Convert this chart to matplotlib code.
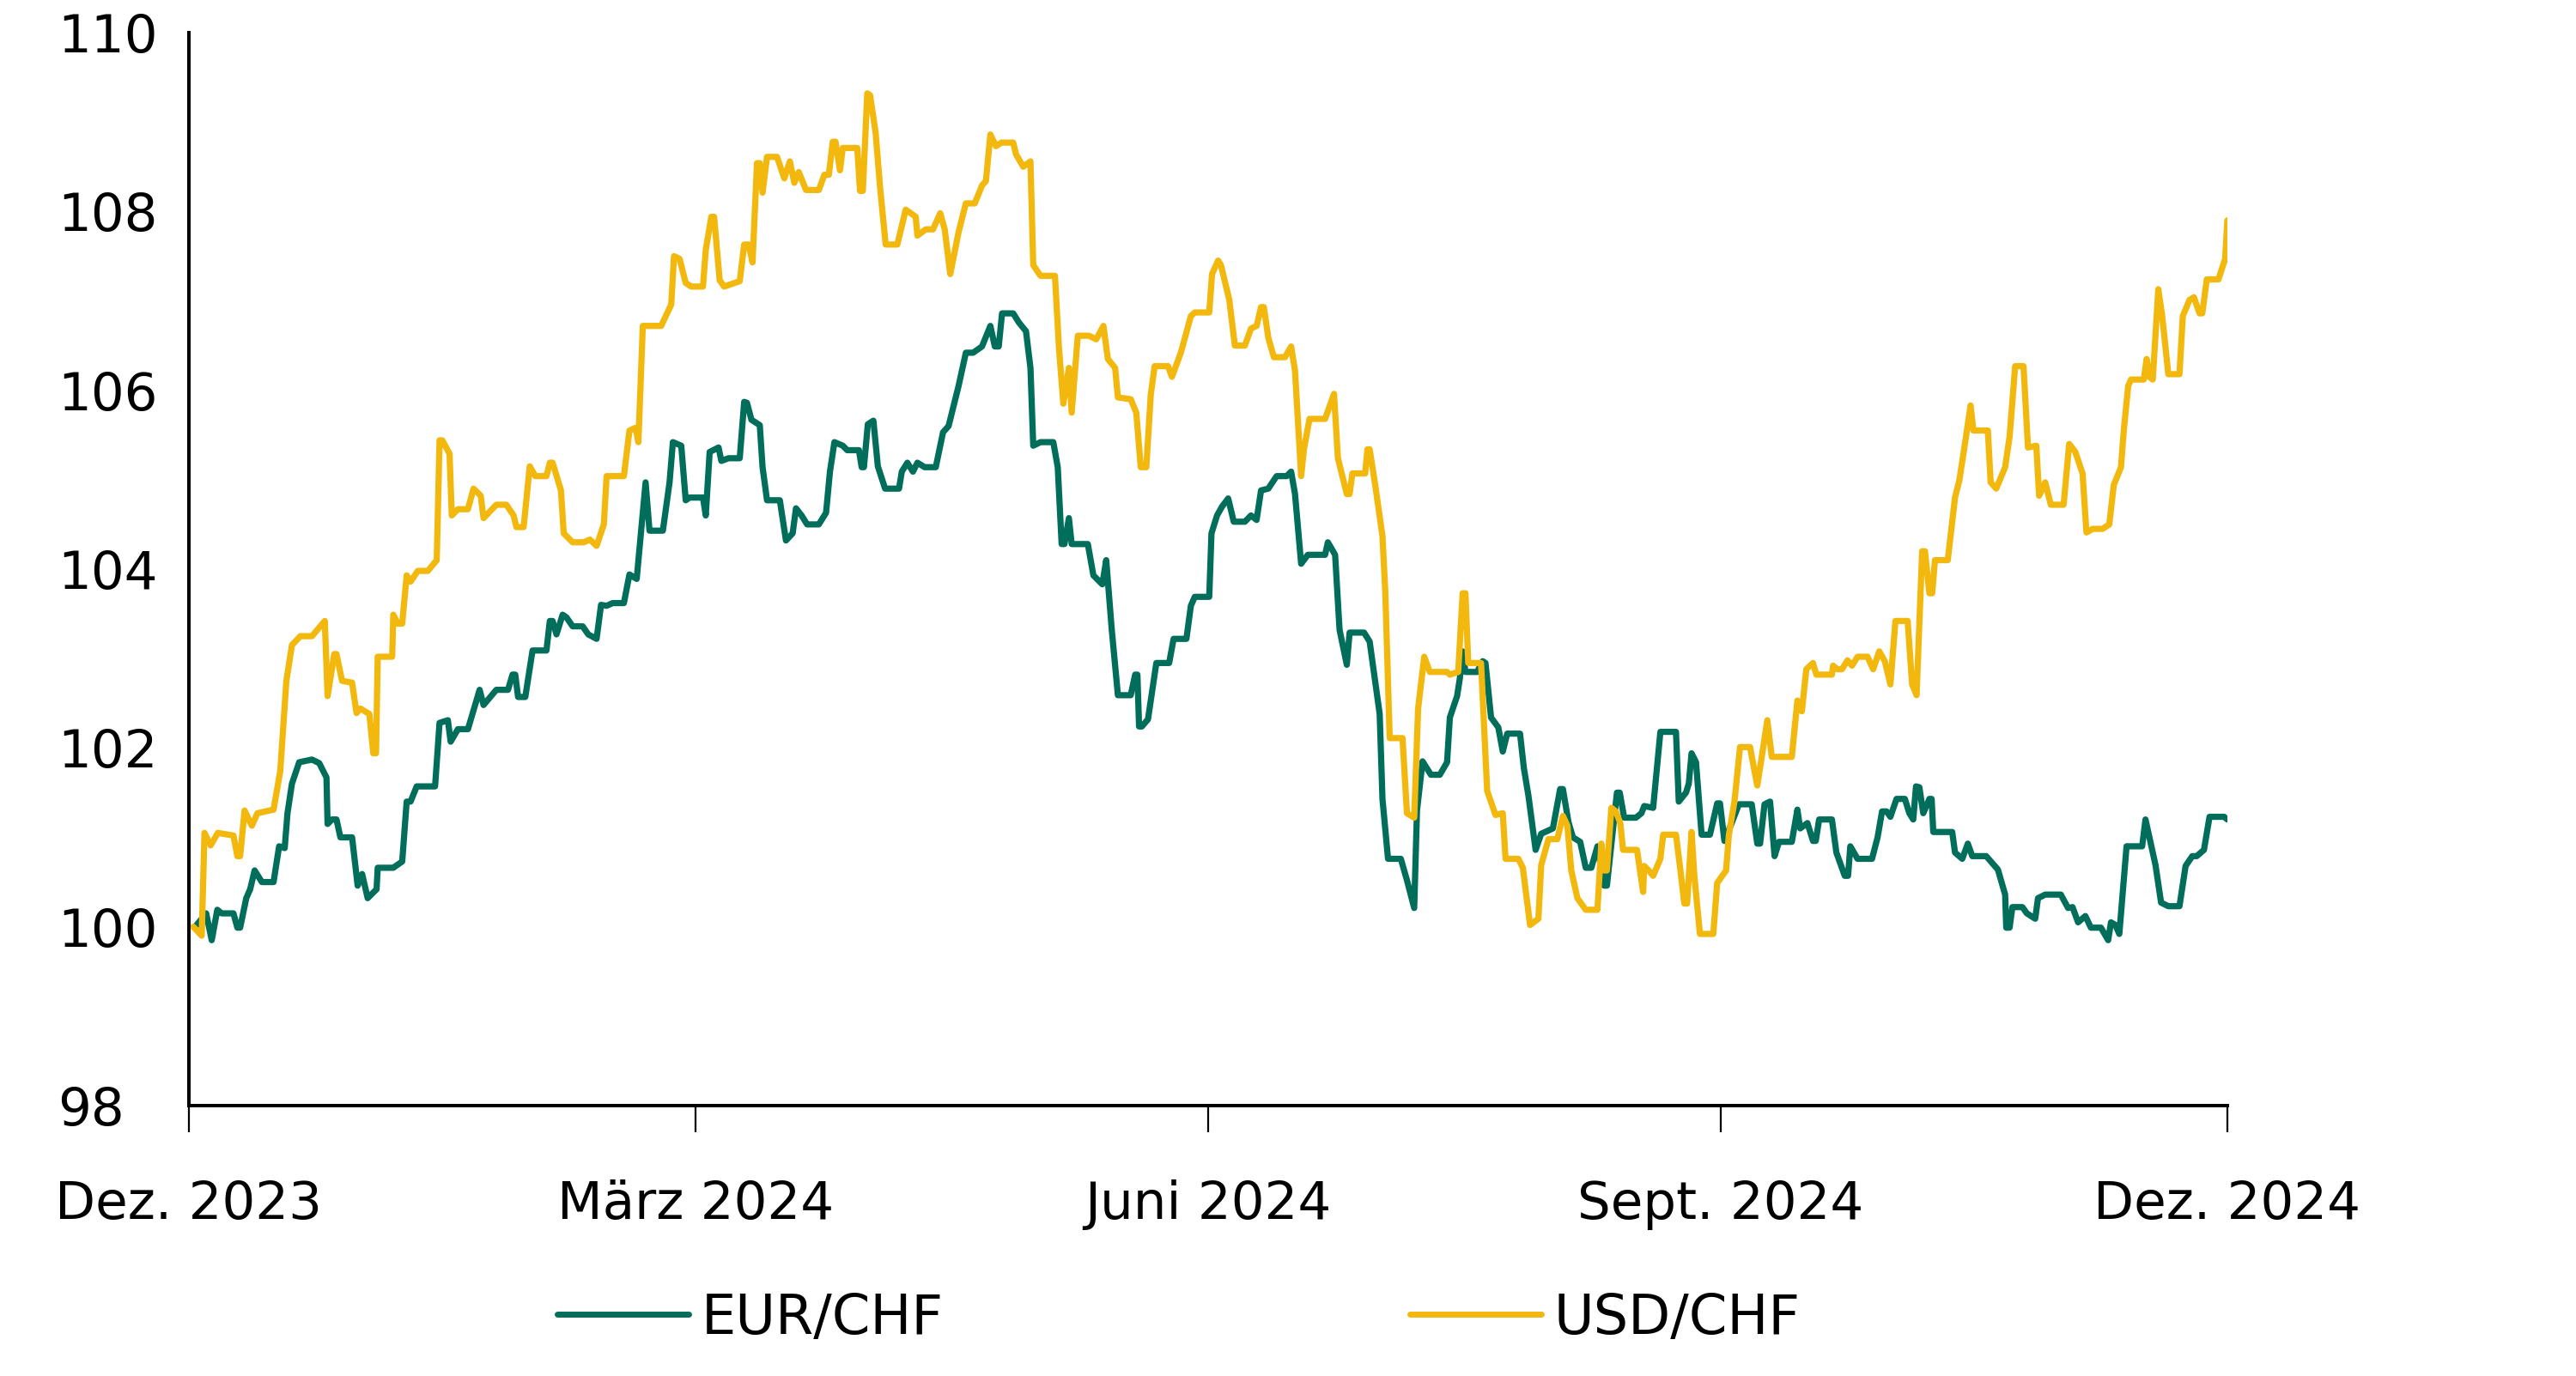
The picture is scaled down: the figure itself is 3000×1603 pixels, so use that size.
import numpy as np
import pandas as pd
import matplotlib
matplotlib.use("Agg")
import matplotlib.pyplot as plt
import matplotlib.dates as mdates
from matplotlib.ticker import FuncFormatter

plt.rcParams['font.family'] = ['DejaVu Sans']

# index values (start = 100), x = days after 1 Dec 2023
start = pd.Timestamp('2023-12-01')

usd_days = [0.8, 2.3, 2.8, 3.9, 5.2, 8.0, 8.7, 9.2, 10.0, 11.3, 12.3, 15.2, 16.4, 17.5, 18.5, 20.0, 22.1, 24.4, 24.9, 26.1,
            26.5, 27.5, 29.3, 30.1, 30.8, 32.4, 33.1, 33.6, 33.9, 36.5, 36.7, 37.5, 38.3, 39.1, 39.8, 41.1, 42.9, 44.5, 45.0, 45.5,
            46.8, 47.2, 48.3, 50.1, 51.1, 52.4, 52.9, 55.2, 57.0, 58.3, 58.8, 60.1, 61.2, 62.2, 64.2, 64.8, 65.3, 66.8, 67.3, 68.9,
            70.9, 72.0, 73.2, 74.5, 75.0, 78.1, 79.1, 80.2, 80.7, 81.5, 84.8, 86.6, 87.1, 88.1, 89.2, 90.2, 92.3, 92.8, 93.8, 94.3,
            95.3, 96.1, 98.9, 99.7, 100.5, 101.2, 102.0, 102.5, 103.0, 103.8, 105.6, 106.9, 107.9, 108.7, 109.5, 110.8, 113.1, 114.1, 114.9, 115.6,
            116.1, 116.9, 117.4, 120.0, 120.5, 121.0, 121.8, 122.3, 123.3, 124.1, 125.1, 127.2, 128.7, 130.5, 130.8, 132.3, 133.6, 134.9, 135.7, 136.7,
            138.2, 139.5, 141.1, 142.4, 143.1, 143.9, 144.9, 145.9, 148.0, 148.5, 149.8, 151.1, 151.6, 152.9, 155.5, 156.2, 157.0, 158.0, 158.5, 159.6,
            161.6, 162.9, 164.2, 165.0, 166.3, 166.8, 169.1, 170.1, 170.9, 171.9, 172.7, 173.4, 175.8, 176.5, 178.1, 179.9, 180.6, 183.2, 183.7, 184.8,
            185.3, 186.8, 187.8, 189.6, 190.7, 191.7, 192.5, 193.0, 193.8, 194.8, 196.8, 197.9, 198.6, 199.7, 200.2, 201.2, 204.0, 205.6, 206.3, 207.9,
            208.4, 208.9, 211.2, 211.6, 212.0, 213.0, 214.3, 214.8, 215.6, 217.9, 218.7, 220.0, 220.7, 221.8, 222.8, 225.9, 226.4, 227.9, 228.7, 229.2,
            229.7, 232.0, 233.1, 234.6, 235.9, 236.4, 238.7, 239.5, 240.8, 242.3, 242.8, 244.1, 245.7, 246.7, 247.5, 248.2, 249.3, 250.8, 252.9, 253.6,
            254.1, 254.6, 255.4, 256.2, 257.0, 257.5, 260.0, 261.1, 261.3, 262.1, 262.9, 264.2, 264.7, 267.0, 267.8, 268.5, 269.0, 269.8, 270.3, 271.3,
            273.7, 274.4, 276.0, 276.5, 277.5, 278.5, 280.3, 281.1, 281.6, 282.4, 283.4, 284.2, 287.8, 288.8, 289.6, 290.4, 291.6, 292.2, 295.0, 295.2,
            296.0, 296.8, 297.8, 298.6, 299.6, 301.4, 302.4, 303.5, 304.5, 305.5, 306.4, 308.6, 309.4, 310.2, 311.2, 311.7, 312.5, 313.0, 313.5, 315.8,
            317.1, 317.9, 318.9, 319.9, 320.4, 323.0, 323.5, 324.5, 326.1, 326.9, 327.9, 329.4, 330.2, 331.7, 332.2, 333.3, 334.3, 336.6, 337.6, 338.7,
            340.0, 340.7, 341.8, 343.6, 344.8, 345.6, 346.9, 347.4, 348.2, 348.7, 351.0, 351.5, 352.0, 352.6, 353.6, 354.3, 355.4, 357.4, 358.0, 359.2,
            360.0, 361.0, 361.5, 362.3, 364.4, 365.6, 366.0]
usd_vals = [100.00, 99.90, 101.05, 100.91, 101.05, 101.02, 100.79, 100.79, 101.30, 101.13, 101.27, 101.31, 101.74, 102.75, 103.15, 103.25, 103.25, 103.42, 102.58, 103.05,
            103.05, 102.75, 102.73, 102.39, 102.44, 102.38, 101.94, 101.94, 103.02, 103.02, 103.49, 103.39, 103.39, 103.93, 103.86, 103.98, 103.98, 104.10, 105.44, 105.44,
            105.29, 104.60, 104.67, 104.67, 104.90, 104.82, 104.57, 104.72, 104.72, 104.60, 104.47, 104.47, 105.15, 105.04, 105.04, 105.19, 105.19, 104.88, 104.40, 104.30,
            104.30, 104.33, 104.26, 104.50, 105.04, 105.04, 105.55, 105.58, 105.42, 106.72, 106.72, 106.96, 107.50, 107.47, 107.20, 107.16, 107.16, 107.57, 107.94, 107.94,
            107.23, 107.16, 107.22, 107.63, 107.63, 107.43, 108.54, 108.54, 108.21, 108.61, 108.61, 108.37, 108.56, 108.32, 108.44, 108.24, 108.24, 108.41, 108.41, 108.78,
            108.78, 108.46, 108.71, 108.71, 108.23, 108.23, 109.32, 109.30, 108.88, 108.27, 107.63, 107.63, 108.02, 107.94, 107.73, 107.80, 107.80, 107.98, 107.80, 107.30,
            107.77, 108.09, 108.09, 108.29, 108.34, 108.86, 108.73, 108.77, 108.77, 108.64, 108.50, 108.56, 107.40, 107.28, 107.28, 106.49, 105.85, 106.25, 105.75, 106.61,
            106.61, 106.57, 106.72, 106.35, 106.25, 105.92, 105.90, 105.75, 105.14, 105.14, 105.95, 106.27, 106.27, 106.15, 106.42, 106.83, 106.87, 106.87, 107.30, 107.45,
            107.40, 107.01, 106.50, 106.50, 106.69, 106.72, 106.93, 106.93, 106.59, 106.37, 106.37, 106.49, 106.22, 105.04, 105.34, 105.68, 105.68, 105.96, 105.24, 104.84,
            104.84, 105.07, 105.07, 105.34, 105.34, 104.94, 104.37, 103.76, 102.11, 102.11, 101.27, 101.22, 102.44, 103.02, 102.85, 102.85, 102.82, 102.85, 103.73, 103.73,
            102.95, 102.95, 101.52, 101.25, 101.27, 100.76, 100.76, 100.66, 100.02, 100.09, 100.69, 100.98, 100.98, 101.24, 101.13, 100.63, 100.32, 100.19, 100.19, 100.93,
            100.63, 100.63, 101.33, 101.29, 101.16, 100.86, 100.86, 100.39, 100.68, 100.63, 100.57, 100.76, 101.03, 101.03, 100.63, 100.26, 100.26, 101.06, 100.57, 99.92,
            99.92, 100.49, 100.63, 101.03, 101.40, 102.01, 102.01, 101.74, 101.58, 101.90, 102.31, 101.90, 101.90, 102.53, 102.41, 102.88, 102.95, 102.82, 102.82, 102.92,
            102.88, 102.88, 102.98, 102.92, 103.02, 103.02, 102.88, 103.08, 102.97, 102.71, 103.42, 103.42, 102.71, 102.59, 104.20, 104.20, 103.73, 103.73, 104.10, 104.10,
            104.80, 105.00, 105.41, 105.83, 105.55, 105.55, 104.97, 104.90, 105.14, 105.48, 106.27, 106.27, 105.36, 105.38, 104.82, 104.97, 104.72, 104.72, 105.40, 105.31,
            105.07, 104.41, 104.45, 104.45, 104.50, 104.94, 105.14, 105.55, 106.05, 106.12, 106.12, 106.35, 106.15, 106.12, 107.13, 106.83, 106.18, 106.18, 106.83, 107.01,
            107.04, 106.86, 106.86, 107.24, 107.24, 107.47, 107.90]

eur_days = [1.0, 3.1, 4.1, 5.1, 5.9, 8.0, 8.7, 9.2, 10.3, 11.0, 11.8, 13.1, 15.2, 16.2, 17.2, 17.7, 18.5, 19.8, 22.1, 23.4,
            24.7, 24.9, 25.7, 26.5, 27.2, 29.3, 30.3, 31.1, 32.1, 33.7, 33.9, 36.7, 38.3, 39.1, 39.8, 40.9, 44.2, 45.0, 46.5, 47.0,
            48.3, 50.1, 52.2, 52.9, 55.2, 57.3, 58.1, 58.6, 59.1, 60.4, 61.7, 64.2, 64.8, 65.3, 66.0, 67.1, 67.8, 68.9, 70.7, 71.7,
            73.2, 74.0, 75.0, 76.1, 78.1, 79.1, 80.4, 82.0, 82.7, 85.1, 86.3, 86.9, 88.4, 89.2, 89.9, 92.3, 92.8, 93.5, 95.1, 95.6,
            96.9, 98.9, 99.7, 100.2, 101.0, 102.5, 103.0, 103.8, 106.1, 107.2, 108.4, 109.0, 110.0, 111.0, 113.1, 114.4, 115.1, 115.9, 117.4, 118.2,
            120.3, 120.8, 121.2, 121.9, 122.9, 123.7, 125.0, 127.5, 128.0, 129.0, 130.0, 130.8, 132.1, 134.1, 135.4, 136.4, 138.2, 139.5, 140.8, 142.4,
            143.9, 144.7, 145.4, 146.0, 148.0, 149.0, 150.3, 151.1, 151.6, 152.9, 155.2, 156.0, 156.7, 157.2, 158.0, 158.5, 161.4, 162.4, 164.0, 164.7,
            165.7, 166.8, 169.1, 169.9, 170.3, 170.6, 171.1, 172.2, 173.7, 176.0, 176.8, 179.1, 179.9, 180.6, 183.2, 183.6, 184.6, 185.5, 186.6, 187.6,
            189.6, 190.7, 191.7, 192.5, 193.8, 195.3, 197.1, 197.9, 198.6, 199.7, 200.9, 204.0, 204.5, 205.8, 206.6, 207.9, 208.4, 211.0, 212.0, 213.8,
            214.3, 215.3, 217.6, 218.7, 220.0, 220.5, 221.5, 223.0, 224.6, 225.9, 226.4, 227.7, 228.2, 228.7, 229.2, 231.3, 232.3, 232.8, 233.8, 235.1,
            235.9, 236.7, 239.0, 239.7, 240.5, 241.8, 242.8, 244.9, 246.2, 246.7, 247.7, 248.5, 249.8, 250.8, 251.8, 252.9, 254.1, 254.6, 255.7, 256.4,
            256.9, 257.7, 259.8, 260.8, 261.3, 262.9, 264.2, 267.0, 267.5, 268.8, 269.3, 269.8, 270.6, 271.6, 273.1, 274.4, 274.9, 275.7, 277.0, 278.3,
            280.6, 281.6, 282.1, 282.9, 283.9, 284.7, 285.5, 287.8, 288.8, 289.3, 290.6, 291.6, 292.1, 292.7, 295.0, 295.8, 297.3, 297.9, 298.3, 299.6,
            302.2, 303.2, 304.0, 304.8, 305.5, 306.6, 308.1, 308.9, 309.6, 310.1, 310.7, 311.4, 312.5, 312.9, 313.2, 316.6, 317.1, 318.4, 319.4, 320.2,
            322.7, 324.8, 326.1, 326.3, 326.9, 327.4, 329.2, 330.0, 331.5, 332.0, 333.3, 336.1, 337.4, 338.2, 339.2, 340.5, 341.5, 343.3, 344.6, 345.1,
            345.9, 346.6, 347.9, 350.7, 351.3, 353.1, 354.1, 355.4, 357.4, 358.5, 359.7, 360.5, 361.8, 362.8, 365.4, 366.0]
eur_vals = [99.99, 100.15, 99.85, 100.19, 100.15, 100.15, 99.99, 99.99, 100.32, 100.42, 100.63, 100.50, 100.50, 100.90, 100.88, 101.27, 101.60, 101.84, 101.87, 101.83,
            101.67, 101.15, 101.20, 101.20, 101.00, 101.00, 100.46, 100.59, 100.32, 100.42, 100.66, 100.66, 100.73, 101.40, 101.40, 101.57, 101.57, 102.28, 102.31, 102.07,
            102.21, 102.21, 102.65, 102.48, 102.65, 102.65, 102.82, 102.82, 102.57, 102.57, 103.09, 103.09, 103.42, 103.42, 103.27, 103.49, 103.46, 103.36, 103.36, 103.27,
            103.22, 103.60, 103.59, 103.62, 103.62, 103.94, 103.89, 104.97, 104.43, 104.43, 104.97, 105.42, 105.38, 104.77, 104.80, 104.80, 104.60, 105.31, 105.36, 105.21,
            105.24, 105.24, 105.87, 105.86, 105.67, 105.61, 105.14, 104.77, 104.77, 104.32, 104.40, 104.68, 104.60, 104.50, 104.50, 104.63, 105.09, 105.42, 105.38, 105.33,
            105.33, 105.14, 105.14, 105.62, 105.66, 105.15, 104.90, 104.90, 105.09, 105.19, 105.09, 105.19, 105.14, 105.14, 105.53, 105.60, 106.05, 106.42, 106.42, 106.49,
            106.72, 106.49, 106.49, 106.86, 106.86, 106.76, 106.66, 106.25, 105.38, 105.42, 105.42, 105.14, 104.28, 104.28, 104.57, 104.28, 104.28, 103.93, 103.83, 104.10,
            103.32, 102.59, 102.59, 102.82, 102.82, 102.24, 102.24, 102.32, 102.95, 102.95, 103.22, 103.22, 103.59, 103.69, 103.69, 104.40, 104.60, 104.70, 104.79, 104.53,
            104.53, 104.60, 104.55, 104.88, 104.90, 105.04, 105.04, 105.09, 104.84, 104.06, 104.16, 104.16, 104.30, 104.16, 103.32, 102.93, 103.29, 103.29, 103.19, 102.38,
            101.43, 100.76, 100.76, 100.52, 100.21, 101.30, 101.85, 101.70, 101.70, 101.84, 102.34, 102.58, 102.78, 103.08, 102.85, 102.85, 102.97, 102.95, 102.34, 102.23,
            101.96, 102.16, 102.16, 101.77, 101.47, 100.86, 101.04, 101.10, 101.54, 101.54, 101.17, 101.00, 100.95, 100.66, 100.66, 100.90, 100.46, 100.46, 101.10, 101.50,
            101.50, 101.22, 101.22, 101.27, 101.35, 101.33, 102.18, 102.18, 101.40, 101.50, 101.60, 101.94, 101.84, 101.03, 101.03, 101.38, 101.38, 100.96, 101.16, 101.37,
            101.37, 100.93, 100.93, 101.37, 101.40, 100.79, 100.95, 100.95, 101.31, 101.10, 101.16, 100.96, 100.96, 101.20, 101.20, 100.83, 100.57, 100.57, 100.90, 100.76,
            100.76, 101.00, 101.29, 101.29, 101.23, 101.43, 101.43, 101.27, 101.20, 101.57, 101.56, 101.27, 101.43, 101.43, 101.06, 101.06, 100.83, 100.76, 100.93, 100.79,
            100.79, 100.64, 100.36, 99.99, 99.99, 100.22, 100.22, 100.15, 100.09, 100.32, 100.36, 100.36, 100.21, 100.22, 100.05, 100.12, 99.99, 99.99, 99.85, 100.05,
            100.02, 99.92, 100.90, 100.90, 101.20, 100.69, 100.27, 100.23, 100.23, 100.68, 100.79, 100.79, 100.86, 101.23, 101.23, 101.20]

month_names = {12: 'Dez.', 3: 'März', 6: 'Juni', 9: 'Sept.'}

green = '#006E5A'
yellow = '#F2B80E'

usd_dates = start + pd.to_timedelta(usd_days, unit='D')
eur_dates = start + pd.to_timedelta(eur_days, unit='D')

fig = plt.figure(figsize=(30, 16.03), dpi=100)
ax = fig.add_axes([0.07333, 0.19651, 0.79133, 0.77979])

ax.plot(eur_dates, eur_vals, color=green, lw=5.2, solid_joinstyle='round', solid_capstyle='round', label='EUR/CHF')
ax.plot(usd_dates, usd_vals, color=yellow, lw=5.2, solid_joinstyle='round', solid_capstyle='round', label='USD/CHF')

ax.set_xlim(start, start + pd.Timedelta(days=366))
ax.set_ylim(98, 110)
ax.set_yticks(np.arange(98, 111, 2))

ax.xaxis.set_major_locator(mdates.MonthLocator(bymonth=[12, 3, 6, 9]))
ax.xaxis.set_major_formatter(FuncFormatter(
    lambda x, pos: '{} {}'.format(month_names[mdates.num2date(x).month], mdates.num2date(x).year)))

for s in ['top', 'right']:
    ax.spines[s].set_visible(False)
ax.spines['left'].set_linewidth(2.9)
ax.spines['bottom'].set_linewidth(2.9)

ax.tick_params(axis='x', length=22, width=1.6, pad=40, labelsize=44, colors='black')
ax.tick_params(axis='y', length=0, pad=110, labelsize=44)
for lab in ax.get_yticklabels():
    lab.set_horizontalalignment('left')

leg = fig.legend(loc='center', bbox_to_anchor=(0.4576, 0.042), ncol=2, frameon=False,
                 fontsize=46, handlelength=2.4, handletextpad=0.23, columnspacing=8.5)
for h in leg.get_lines():
    h.set_linewidth(5)
    h.set_solid_capstyle('round')

fig.savefig('out.png', dpi=100)
